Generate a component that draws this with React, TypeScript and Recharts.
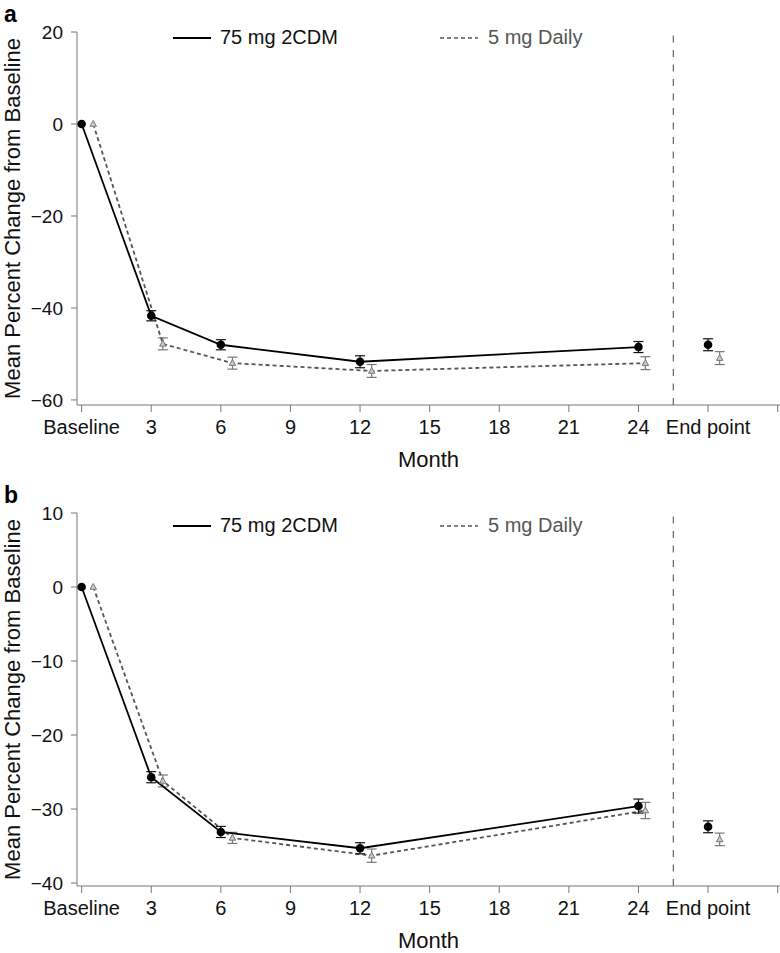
import React from 'react';
import { ComposedChart, Line, Scatter, XAxis, YAxis, ErrorBar, ReferenceLine, Legend } from 'recharts';

// shared x positions (months); the 5 mg series is dodged a little to the right
const xTicks = [0, 3, 6, 9, 12, 15, 18, 21, 24, 27, 30];
const cdmMonths = [0, 3, 6, 12, 24];
const dailyMonths = [0.5, 3.5, 6.5, 12.5, 24.3];
const cdmEndMonth = 27;
const dailyEndMonth = 27.5;
const separatorMonth = 25.5;

// panel a
const yTicksA = [20, 0, -20, -40, -60];
const cdmA = [0, -41.7, -48.0, -51.7, -48.5];
const cdmErrA = [0, 1.1, 1.1, 1.3, 1.2];
const dailyA = [0, -47.8, -52.0, -53.7, -52.0];
const dailyErrA = [0, 1.3, 1.3, 1.4, 1.4];
const cdmEndA = [-48.0];
const cdmEndErrA = [1.3];
const dailyEndA = [-50.9];
const dailyEndErrA = [1.4];

// panel b
const yTicksB = [10, 0, -10, -20, -30, -40];
const cdmB = [0, -25.7, -33.1, -35.3, -29.6];
const cdmErrB = [0, 0.75, 0.75, 0.75, 0.95];
const dailyB = [0, -26.2, -33.9, -36.3, -30.2];
const dailyErrB = [0, 0.8, 0.75, 0.9, 1.1];
const cdmEndB = [-32.4];
const cdmEndErrB = [0.8];
const dailyEndB = [-34.1];
const dailyEndErrB = [0.85];

const FONT = '"Liberation Sans", Arial, Helvetica, sans-serif';
const AXIS = '#777';

const toRows = (xs: number[], ys: number[], errs: number[]) =>
  xs.map((x, i) => ({ x, y: ys[i], err: errs[i] }));

const xLabel = (v: number) => (v === 0 ? 'Baseline' : v === 27 ? 'End point' : v === 30 ? '' : String(v));
const yLabel = (v: number) => String(v).replace('-', '\u2212');

const Circle = (p: any) => {
  if (p.cx == null || p.cy == null) return <g key={`c-${p.index}`} />;
  return <circle key={`c-${p.index}`} cx={p.cx} cy={p.cy} r={4.3} fill="#000" />;
};

const Triangle = (p: any) => {
  if (p.cx == null || p.cy == null) return <g key={`t-${p.index}`} />;
  const { cx, cy } = p;
  return (
    <path
      key={`t-${p.index}`}
      d={`M${cx},${cy - 3.5}L${cx + 3.2},${cy + 2.3}L${cx - 3.2},${cy + 2.3}Z`}
      fill="#ccc"
      stroke="#777"
      strokeWidth={1}
    />
  );
};

const LegendBox = () => (
  <div style={{ position: 'relative', height: 24, fontFamily: FONT, fontSize: 20 }}>
    <div style={{ position: 'absolute', left: 0, top: 0, display: 'flex', alignItems: 'center' }}>
      <svg width={38} height={10}>
        <line x1={0} y1={5} x2={38} y2={5} stroke="#000" strokeWidth={1.8} />
      </svg>
      <span style={{ marginLeft: 9, color: '#111' }}>75 mg 2CDM</span>
    </div>
    <div style={{ position: 'absolute', left: 267, top: 0, display: 'flex', alignItems: 'center' }}>
      <svg width={38} height={10}>
        <line x1={0} y1={5} x2={38} y2={5} stroke="#555" strokeWidth={1.5} strokeDasharray="4 3" />
      </svg>
      <span style={{ marginLeft: 10, color: '#555' }}>5 mg Daily</span>
    </div>
  </div>
);

interface PanelProps {
  letter: string;
  top: number;
  legendTop: number;
  yDomain: [number, number];
  yTicks: number[];
  cdm: number[];
  cdmErr: number[];
  daily: number[];
  dailyErr: number[];
  cdmEnd: number[];
  cdmEndErr: number[];
  dailyEnd: number[];
  dailyEndErr: number[];
}

const Panel: React.FC<PanelProps> = (p) => {
  const cdmRows = toRows(cdmMonths, p.cdm, p.cdmErr);
  const dailyRows = toRows(dailyMonths, p.daily, p.dailyErr);
  const cdmEndRows = toRows([cdmEndMonth], p.cdmEnd, p.cdmEndErr);
  const dailyEndRows = toRows([dailyEndMonth], p.dailyEnd, p.dailyEndErr);

  return (
    <div style={{ position: 'absolute', left: 0, top: p.top, width: 780, height: 472 }}>
      <ComposedChart width={780} height={472} margin={{ top: 32, right: 0, bottom: 0, left: 0 }} style={{ fontFamily: FONT }}>
        <XAxis
          type="number"
          dataKey="x"
          domain={[-0.2, 30.1]}
          ticks={xTicks}
          interval={0}
          tickFormatter={xLabel}
          allowDataOverflow
          height={67}
          stroke={AXIS}
          tickSize={7}
          tickMargin={8}
          tick={{ fill: '#111', fontSize: 20 }}
          label={{ value: 'Month', position: 'insideBottom', offset: 5, fill: '#111', fontSize: 22 }}
        />
        <YAxis
          type="number"
          domain={p.yDomain}
          ticks={p.yTicks}
          interval={0}
          tickFormatter={yLabel}
          allowDataOverflow
          width={77}
          stroke={AXIS}
          tickSize={6}
          tickMargin={8}
          tick={{ fill: '#111', fontSize: 19 }}
          label={{
            value: 'Mean Percent Change from Baseline',
            angle: -90,
            position: 'insideLeft',
            offset: 12,
            fill: '#111',
            fontSize: 22,
            style: { textAnchor: 'middle' },
          }}
        />
        <ReferenceLine x={separatorMonth} stroke="#444" strokeWidth={1} strokeDasharray="7 7.5" />
        <Legend
          layout="horizontal"
          align="center"
          verticalAlign="middle"
          content={<LegendBox />}
          wrapperStyle={{ left: 173, top: p.legendTop, width: 420, height: 24 }}
        />
        <Line
          data={dailyRows}
          dataKey="y"
          type="linear"
          stroke="#555"
          strokeWidth={1.8}
          strokeDasharray="4 3"
          dot={Triangle}
          activeDot={false}
          isAnimationActive={false}
        >
          <ErrorBar dataKey="err" direction="y" width={5} stroke="#777" strokeWidth={1.2} />
        </Line>
        <Line
          data={cdmRows}
          dataKey="y"
          type="linear"
          stroke="#000"
          strokeWidth={1.8}
          dot={Circle}
          activeDot={false}
          isAnimationActive={false}
        >
          <ErrorBar dataKey="err" direction="y" width={5} stroke="#111" strokeWidth={1.2} />
        </Line>
        <Scatter data={dailyEndRows} dataKey="y" shape={Triangle} isAnimationActive={false}>
          <ErrorBar dataKey="err" direction="y" width={5} stroke="#777" strokeWidth={1.2} />
        </Scatter>
        <Scatter data={cdmEndRows} dataKey="y" shape={Circle} isAnimationActive={false}>
          <ErrorBar dataKey="err" direction="y" width={5} stroke="#111" strokeWidth={1.2} />
        </Scatter>
      </ComposedChart>
      <div
        style={{
          position: 'absolute',
          left: 4,
          top: 3,
          fontFamily: FONT,
          fontWeight: 'bold',
          fontSize: 23,
          lineHeight: '23px',
          color: '#000',
        }}
      >
        {p.letter}
      </div>
    </div>
  );
};

export default function App() {
  return (
    <div style={{ position: 'absolute', left: 0, top: 0, width: 780, height: 953, background: '#fff' }}>
      <Panel
        letter="a"
        top={0}
        legendTop={26}
        yDomain={[-61.1, 20]}
        yTicks={yTicksA}
        cdm={cdmA}
        cdmErr={cdmErrA}
        daily={dailyA}
        dailyErr={dailyErrA}
        cdmEnd={cdmEndA}
        cdmEndErr={cdmEndErrA}
        dailyEnd={dailyEndA}
        dailyEndErr={dailyEndErrA}
      />
      <Panel
        letter="b"
        top={481}
        legendTop={33}
        yDomain={[-40.4, 10]}
        yTicks={yTicksB}
        cdm={cdmB}
        cdmErr={cdmErrB}
        daily={dailyB}
        dailyErr={dailyErrB}
        cdmEnd={cdmEndB}
        cdmEndErr={cdmEndErrB}
        dailyEnd={dailyEndB}
        dailyEndErr={dailyEndErrB}
      />
    </div>
  );
}
